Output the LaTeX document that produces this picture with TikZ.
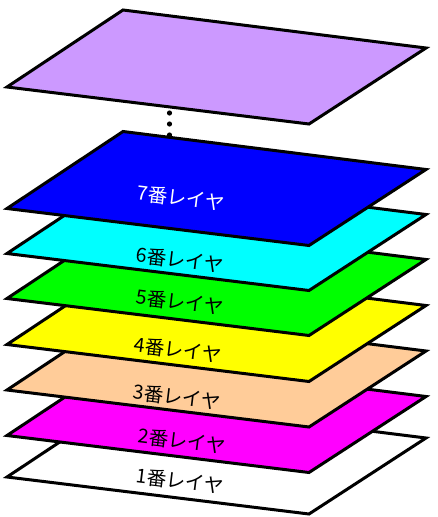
\documentclass[tikz,border=0pt]{standalone}
\usepackage{fontspec}
\newfontfamily\jp{Noto Sans CJK JP}
\definecolor{lpurple}{HTML}{CC99FF}
\definecolor{peach}{HTML}{FFCC99}
\definecolor{pblue}{HTML}{0000FF}
\definecolor{pcyan}{HTML}{00FFFF}
\definecolor{pgreen}{HTML}{00FF00}
\definecolor{pyellow}{HTML}{FFFF00}
\definecolor{pmagenta}{HTML}{FF00FF}
\tikzset{
  layerplate/.style={draw=black, line width=3pt, fill=#1},
  layerlabel/.style={font=\jp\fontsize{19.5}{22}\selectfont, rotate=-7, inner sep=0pt},
  dotmark/.style={fill=black}
}
\newcommand\layerplate[3]{%
  \filldraw[layerplate=#2] (309,#1) coordinate (#3b) -- ++(-302,-37) coordinate (#3l)
    -- ++(116,-77) coordinate (#3t) -- ++(303,38) coordinate (#3r) -- cycle;}
\begin{document}
\begin{tikzpicture}[x=1pt,y=-1pt]
\useasboundingbox (0,0) rectangle (437,517);
\layerplate{514}{white}{L1}
\layerplate{472.5}{pmagenta}{L2}
\layerplate{427}{peach}{L3}
\layerplate{381.5}{pyellow}{L4}
\layerplate{335.5}{pgreen}{L5}
\layerplate{290.5}{pcyan}{L6}
\layerplate{245.5}{pblue}{L7}
\layerplate{124}{lpurple}{LT}
\node[layerlabel] (t1) at (180,481) {1番レイヤ};
\node[layerlabel] (t2) at (182,441) {2番レイヤ};
\node[layerlabel] (t3) at (177,397) {3番レイヤ};
\node[layerlabel] (t4) at (178,350) {4番レイヤ};
\node[layerlabel] (t5) at (180,302) {5番レイヤ};
\node[layerlabel] (t6) at (180,260) {6番レイヤ};
\node[layerlabel, text=white] (t7) at (181,198) {7番レイヤ};
\fill[dotmark] (169.5,113) circle (2.6);
\fill[dotmark] (169.5,124) circle (2.6);
\fill[dotmark] (169.5,135) circle (2.6);
\end{tikzpicture}
\end{document}
